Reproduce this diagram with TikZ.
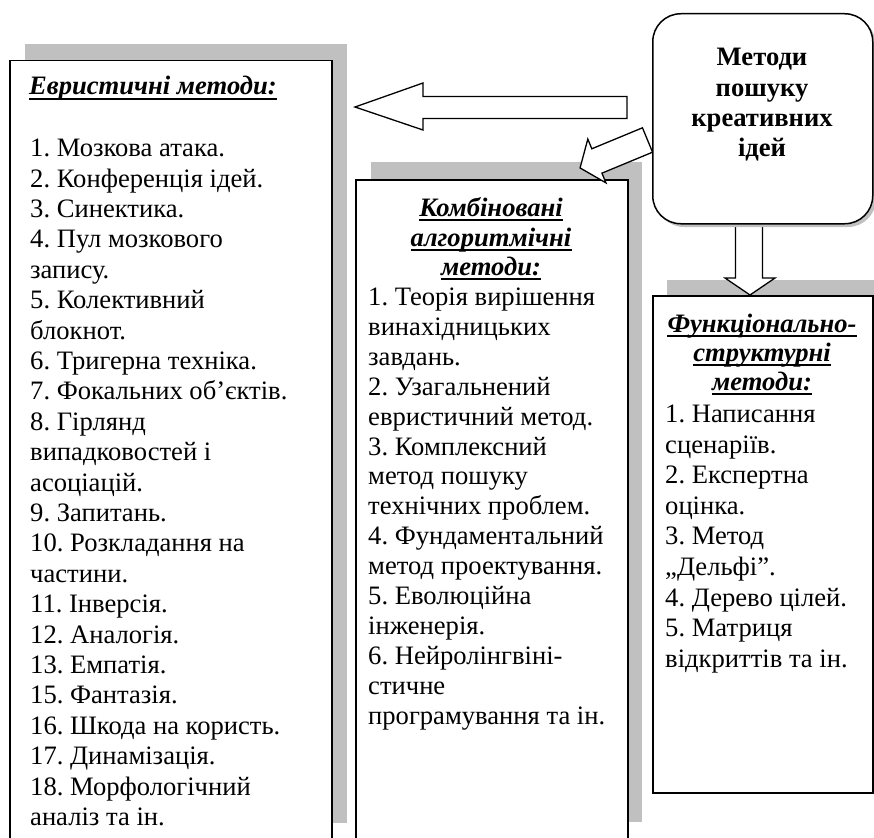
\documentclass[tikz,border=0pt]{standalone}
\usepackage{fontspec}
\setmainfont{Liberation Serif}
\definecolor{shgray}{RGB}{192,192,192}
\begin{document}
\frenchspacing
\begin{tikzpicture}[x=1pt,y=1pt,
  shadowfill/.style={fill=shgray,draw=none},
  box/.style={draw=black,line width=1.5pt,fill=white,inner sep=0pt},
  blockarrow/.style={draw=black,line width=1.3pt,fill=white,line join=miter},
  txt/.style={inner sep=0pt,anchor=base west,font=\fontsize{26.6}{30.4}\selectfont\frenchspacing},
  ttl/.style={inner sep=0pt,anchor=base,font=\fontsize{26.6}{30.4}\selectfont\bfseries\itshape},
  srcttl/.style={inner sep=0pt,anchor=base,font=\fontsize{26.6}{30.4}\selectfont\bfseries},
  uline/.style={line width=1.6pt}]
\clip (0,0) rectangle (874,-837);
\fill[white] (0,0) rectangle (874,-837);
% shadows
\fill[shadowfill] (25,-44) rectangle (347,-823);
\fill[shadowfill] (371,-162) rectangle (642,-822);
\fill[shadowfill] (667,-280) rectangle (890,-777);
% boxes
\node[box,minimum width=322,minimum height=780,anchor=north west] (heur) at (9,-60) {};
\node[box,minimum width=272,minimum height=661,anchor=north west] (comb) at (355,-179) {};
\node[box,minimum width=220,minimum height=497,anchor=north west] (func) at (652,-295) {};
% arrows
\draw[blockarrow] (355,-107) -- (423,-83) -- (423,-96.5) -- (627,-96.5) -- (627,-118.5) -- (423,-118.5) -- (423,-130) -- cycle;
\begin{scope}[shift={(647.5,-140)},rotate=202.5]
\draw[blockarrow] (0,13.2) -- (54.8,13.2) -- (54.8,23.7) -- (73,0) -- (54.8,-23.7) -- (54.8,-13.2) -- (0,-13.2) -- cycle;
\end{scope}
\draw[blockarrow] (735.5,-220) -- (735.5,-278) -- (725,-278) -- (750,-295) -- (775,-278) -- (762.5,-278) -- (762.5,-220) -- cycle;
% source box
\fill[shgray,rounded corners=28pt] (656,-17) rectangle (876,-227);
\node[box,rounded corners=28pt,minimum width=220,minimum height=210,anchor=north west] (src) at (652,-13) {};
\node[srcttl] (s1) at (762,-66) {Методи};
\node[srcttl] (s2) at (762,-97) {пошуку};
\node[srcttl] (s3) at (762,-127) {креативних};
\node[srcttl] (s4) at (762,-157) {ідей};
% left box text
\node[ttl,anchor=base west] (ht) at (29,-95) {Евристичні методи:};
\draw[uline] ([yshift=-4pt]ht.base west) -- ([yshift=-4pt]ht.base east);
\foreach [count=\i] \t in {1. Мозкова атака.,2. Конференція ідей.,3. Синектика.,4. Пул мозкового,запису.,5. Колективний,блокнот.,6. Тригерна техніка.,7. Фокальних об’єктів.,8. Гірлянд,випадковостей і,асоціацій.,9. Запитань.,10. Розкладання на,частини.,11. Інверсія.,12. Аналогія.,13. Емпатія.,15. Фантазія.,16. Шкода на користь.,17. Динамізація.,18. Морфологічний,аналіз та ін.}
  \node[txt] (h\i) at (30,{-156.7-30.4*(\i-1)}) {\t};
% middle box text
\node[ttl] (c1) at (491,-216) {Комбіновані};
\node[ttl] (c2) at (491,-246) {алгоритмічні};
\node[ttl] (c3) at (491,-275) {методи:};
\foreach \n in {c1,c2,c3}
  \draw[uline] ([yshift=-4pt]\n.base west) -- ([yshift=-4pt]\n.base east);
\foreach [count=\i] \t in {1. Теорія вирішення,винахідницьких,завдань.,2. Узагальнений,евристичний метод.,3. Комплексний,метод пошуку,технічних проблем.,4. Фундаментальний,метод проектування.,5. Еволюційна,інженерія.,6. Нейролінгвіні-,стичне,програмування та ін.}
  \node[txt] (m\i) at (368,{-305.5-29.9*(\i-1)}) {\t};
% right box text
\node[ttl] (f1) at (762,-332) {Функціонально-};
\node[ttl] (f2) at (762,-361) {структурні};
\node[ttl] (f3) at (762,-390) {методи:};
\foreach \n in {f1,f2,f3}
  \draw[uline] ([yshift=-4pt]\n.base west) -- ([yshift=-4pt]\n.base east);
\foreach [count=\i] \t in {1. Написання,сценаріїв.,2. Експертна,оцінка.,3. Метод,„Дельфі”.,4. Дерево цілей.,5. Матриця,відкриттів та ін.}
  \node[txt] (r\i) at (665,{-422.5-30.6*(\i-1)}) {\t};
\end{tikzpicture}
\end{document}
